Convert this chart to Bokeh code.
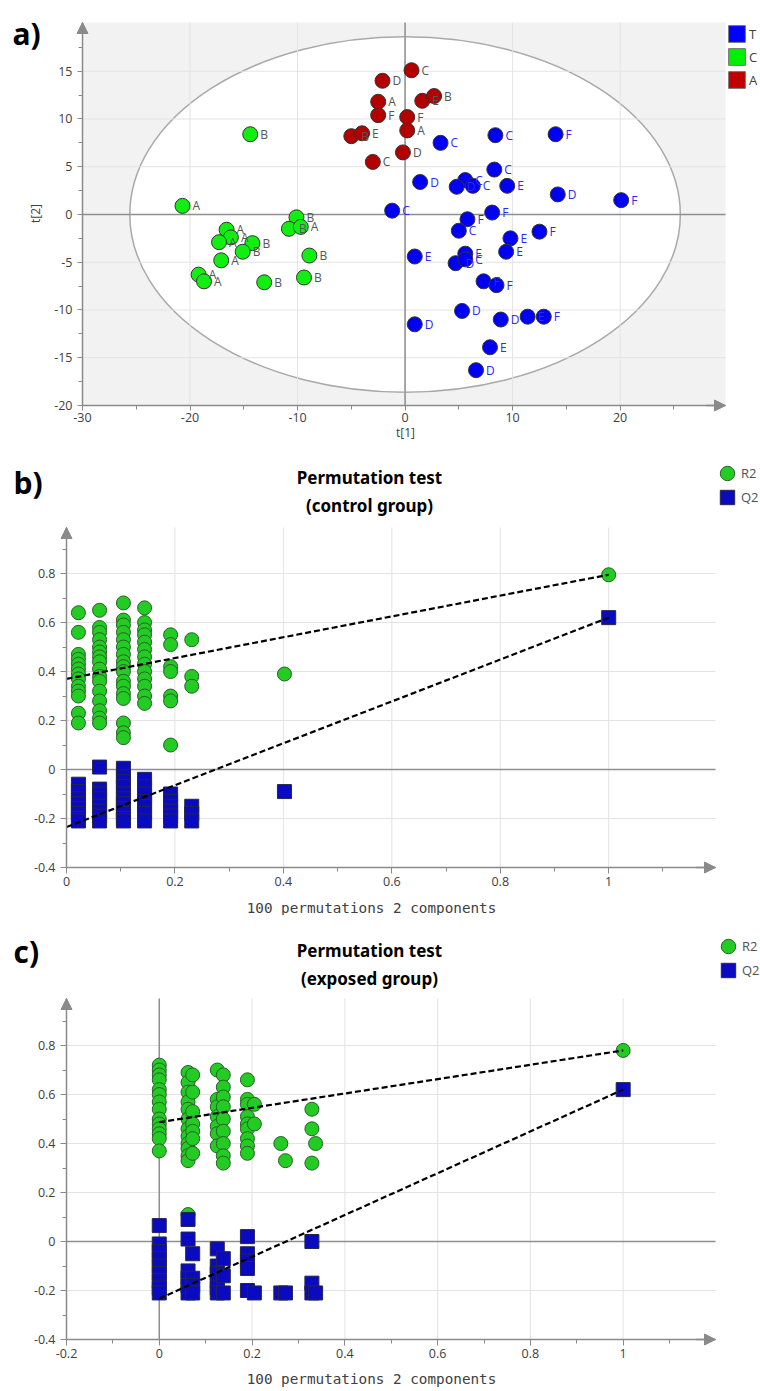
import math
from bokeh.plotting import figure
from bokeh.models import (Range1d, FixedTicker, Arrow, NormalHead, Label, Legend, LegendItem)
from bokeh.layouts import column
from bokeh.core.properties import value
from bokeh.embed import file_html
from bokeh.resources import INLINE

# ---------------- panel a : score plot t[1] / t[2] ----------------
t_x = [8.4, 14.0, 3.3, 8.3, 1.4, 5.6, 4.8, 6.3, 9.5, 14.2, 20.1, -1.2, 8.1, 5.8, 5.0, 12.5,
       9.8, 0.9, 5.6, 4.7, 5.6, 9.4, 7.3, 8.5, 5.3, 0.9, 8.9, 11.4, 12.9, 7.9, 6.6]
t_y = [8.3, 8.4, 7.5, 4.7, 3.4, 3.6, 2.9, 3.0, 3.0, 2.1, 1.5, 0.4, 0.2, -0.5, -1.7, -1.8,
       -2.5, -4.4, -4.1, -5.1, -4.7, -3.9, -7.0, -7.4, -10.1, -11.5, -11.0, -10.7, -10.7, -13.9, -16.3]
t_lab = ["C", "F", "C", "C", "D", "C", "D", "C", "E", "D", "F", "C", "F", "F", "C", "F",
         "E", "E", "E", "D", "C", "E", "F", "F", "D", "D", "D", "E", "F", "E", "D"]

c_x = [-20.7, -16.6, -16.2, -17.3, -14.2, -15.1, -17.1, -19.2, -18.7, -13.1, -9.4, -8.9,
       -10.1, -10.8, -9.7, -14.4]
c_y = [0.9, -1.6, -2.4, -2.9, -3.0, -3.9, -4.8, -6.3, -7.0, -7.1, -6.6, -4.3,
       -0.3, -1.5, -1.3, 8.4]
c_lab = ["A", "A", "A", "A", "B", "B", "A", "A", "A", "B", "B", "B", "B", "B", "A", "B"]

a_x = [0.6, -2.1, -2.5, -2.5, 0.2, 0.2, 1.6, 2.7, -5.0, -4.0, -0.2, -3.0]
a_y = [15.1, 14.0, 11.8, 10.4, 10.2, 8.8, 11.9, 12.4, 8.2, 8.5, 6.5, 5.5]
a_lab = ["C", "D", "A", "F", "F", "A", "E", "B", "B", "E", "D", "C"]

groups = ["T", "C", "A"]
ellipse_rx = 25.6   # Hotelling T2 ellipse semi-axes
ellipse_ry = 18.6

a_xticks = [-30, -20, -10, 0, 10, 20]
a_xtick_labels = ["-30", "-20", "-10", "0", "10", "20"]
a_yticks = [-20, -15, -10, -5, 0, 5, 10, 15]
a_ytick_labels = ["-20", "-15", "-10", "-5", "0", "5", "10", "15"]
a_xlabel = "t[1]"
a_ylabel = "t[2]"

# ---------------- panel b : permutation test (control group) ----------------
b_corr = [0.022, 0.061, 0.105, 0.144, 0.192, 0.231, 0.402, 1.0]
b_r2 = [
    [0.64, 0.56, 0.47, 0.45, 0.43, 0.41, 0.39, 0.37, 0.34, 0.32, 0.30, 0.23, 0.19],
    [0.65, 0.58, 0.56, 0.53, 0.50, 0.48, 0.46, 0.44, 0.41, 0.38, 0.36, 0.32, 0.28, 0.24, 0.21, 0.19],
    [0.68, 0.61, 0.59, 0.56, 0.53, 0.50, 0.47, 0.44, 0.42, 0.40, 0.36, 0.34, 0.31, 0.29, 0.19, 0.15, 0.13],
    [0.66, 0.60, 0.57, 0.55, 0.52, 0.49, 0.46, 0.43, 0.40, 0.37, 0.34, 0.30, 0.27],
    [0.55, 0.51, 0.42, 0.40, 0.30, 0.28, 0.10],
    [0.53, 0.38, 0.34],
    [0.39],
    [0.795],
]
b_q2 = [
    [-0.06, -0.09, -0.12, -0.14, -0.16, -0.18, -0.20, -0.21],
    [0.01, -0.08, -0.10, -0.12, -0.15, -0.17, -0.19, -0.21],
    [0.005, -0.03, -0.05, -0.07, -0.10, -0.12, -0.14, -0.16, -0.18, -0.20, -0.21],
    [-0.04, -0.07, -0.10, -0.13, -0.15, -0.18, -0.21],
    [-0.10, -0.13, -0.15, -0.17, -0.19, -0.21],
    [-0.15, -0.18, -0.21],
    [-0.09],
    [0.62],
]
b_r2_intercept = 0.37
b_q2_intercept = -0.235

# ---------------- panel c : permutation test (exposed group) ----------------
c_corr = [0.0, 0.062, 0.072, 0.125, 0.138, 0.19, 0.205, 0.262, 0.272, 0.329, 0.337, 1.0]
c_r2 = [
    [0.72, 0.70, 0.68, 0.66, 0.62, 0.60, 0.57, 0.54, 0.50, 0.48, 0.46, 0.44, 0.42, 0.37],
    [0.69, 0.65, 0.61, 0.57, 0.54, 0.50, 0.46, 0.43, 0.40, 0.38, 0.35, 0.33, 0.11],
    [0.68, 0.61, 0.53, 0.48, 0.45, 0.42, 0.36],
    [0.70, 0.58, 0.55, 0.51, 0.47, 0.44, 0.39],
    [0.68, 0.63, 0.59, 0.55, 0.50, 0.45, 0.40, 0.35, 0.32],
    [0.66, 0.58, 0.56, 0.51, 0.48, 0.46, 0.42, 0.39, 0.36],
    [0.56, 0.48],
    [0.40],
    [0.33],
    [0.54, 0.46, 0.32],
    [0.40],
    [0.78],
]
c_q2 = [
    [0.065, -0.01, -0.04, -0.07, -0.10, -0.13, -0.16, -0.19, -0.21],
    [0.09, 0.01, -0.12, -0.15, -0.18, -0.21],
    [-0.05, -0.15, -0.18, -0.21],
    [-0.03, -0.10, -0.13, -0.16, -0.19, -0.21],
    [-0.07, -0.14, -0.21],
    [0.02, -0.05, -0.08, -0.11, -0.20],
    [-0.21],
    [-0.21],
    [-0.21],
    [0.0, -0.17, -0.21],
    [-0.21],
    [0.62],
]
c_r2_intercept = 0.487
c_q2_intercept = -0.233

perm_xticks_b = [0, 0.2, 0.4, 0.6, 0.8, 1]
perm_xtick_labels_b = ["0", "0.2", "0.4", "0.6", "0.8", "1"]
perm_xticks_c = [-0.2, 0, 0.2, 0.4, 0.6, 0.8, 1]
perm_xtick_labels_c = ["-0.2", "0", "0.2", "0.4", "0.6", "0.8", "1"]
perm_yticks = [-0.4, -0.2, 0, 0.2, 0.4, 0.6, 0.8]
perm_ytick_labels = ["-0.4", "-0.2", "0", "0.2", "0.4", "0.6", "0.8"]
perm_xlabel = "100 permutations 2 components"
perm_title = "Permutation test"
series_names = ["R2", "Q2"]

# ---------------- styling ----------------
AXIS = "#8a8a8a"
GRID = "#e3e3e3"
ZERO = "#8f8f8f"
TICKFONT = "Open Sans"
TICKCOL = "#404040"
BLUE_T, GREEN_C, RED_A = "#0000f5", "#12ee12", "#b30000"
GREEN_R2, BLUE_Q2 = "#22cc22", "#0a0ac0"
PAGE_L, PAGE_R = 0, 760


def flatten(xs, cols):
    fx, fy = [], []
    for x, col in zip(xs, cols):
        for v in col:
            fx.append(x)
            fy.append(v)
    return fx, fy


class Panel:
    """Figure whose frame is the whole canvas; the plot box is mapped to page pixels."""

    def __init__(self, top, bottom, box, xr, yr, bg="white"):
        pl, pt, pr, pb = box
        x0, x1 = xr
        y0, y1 = yr
        kx = (x1 - x0) / (pr - pl)
        ky = (y1 - y0) / (pb - pt)
        self.top, self.bottom = top, bottom
        self.x0, self.x1, self.y0, self.y1 = x0, x1, y0, y1
        self.p = figure(width=PAGE_R - PAGE_L, height=bottom - top, output_backend="svg",
                        toolbar_location=None,
                        x_range=Range1d(x0 + (PAGE_L - pl) * kx, x0 + (PAGE_R - pl) * kx),
                        y_range=Range1d(y0 - (bottom - pb) * ky, y1 + (pt - top) * ky),
                        min_border=0, background_fill_color="white", border_fill_color="white",
                        outline_line_color=None)
        self.p.xgrid.visible = False
        self.p.ygrid.visible = False
        if bg != "white":
            self.p.quad(left=[x0], right=[x1], bottom=[y0], top=[y1], fill_color=bg, line_color=None)

    def sx(self, px):
        return px - PAGE_L

    def sy(self, py):
        return self.bottom - py

    def label(self, px, py, text, size, font="Open Sans", bold=False, color=TICKCOL,
              align="center", baseline="middle", angle=0.0):
        self.p.add_layout(Label(x=self.sx(px), y=self.sy(py), x_units="screen", y_units="screen",
                                text=text, text_font=font, text_font_size=size,
                                text_font_style="bold" if bold else "normal", text_color=color,
                                text_align=align, text_baseline=baseline, angle=angle))

    def grid(self, xt, yt):
        p = self.p
        p.segment(x0=xt, y0=[self.y0] * len(xt), x1=xt, y1=[self.y1] * len(xt),
                  line_color=GRID, line_width=1)
        p.segment(x0=[self.x0] * len(yt), y0=yt, x1=[self.x1] * len(yt), y1=yt,
                  line_color=GRID, line_width=1)

    def zero_lines(self, horiz=True, vert=True):
        if horiz:
            self.p.segment(x0=[self.x0], y0=[0], x1=[self.x1], y1=[0], line_color=ZERO, line_width=1.5)
        if vert:
            self.p.segment(x0=[0], y0=[self.y0], x1=[0], y1=[self.y1], line_color=ZERO, line_width=1.5)

    def axes(self, xt, xl, xminor, yt, yl, yminor, tick_out=6, xstand=3, ystand=5):
        p = self.p
        p.xaxis.fixed_location = self.y0
        p.yaxis.fixed_location = self.x0
        p.xaxis.bounds = (self.x0, self.x1)
        p.yaxis.bounds = (self.y0, self.y1)
        p.xaxis.ticker = FixedTicker(ticks=xt, minor_ticks=xminor)
        p.yaxis.ticker = FixedTicker(ticks=yt, minor_ticks=yminor)
        p.xaxis.major_label_overrides = {t: l for t, l in zip(xt, xl)}
        p.yaxis.major_label_overrides = {t: l for t, l in zip(yt, yl)}
        for ax in (p.xaxis[0], p.yaxis[0]):
            ax.axis_line_color = AXIS
            ax.axis_line_width = 1.5
            ax.major_tick_line_color = AXIS
            ax.minor_tick_line_color = AXIS
            ax.major_tick_in = 0
            ax.major_tick_out = tick_out
            ax.minor_tick_in = 0
            ax.minor_tick_out = 4
            ax.major_label_text_font = TICKFONT
            ax.major_label_text_font_size = "12.5px"
            ax.major_label_text_color = TICKCOL
        p.xaxis.major_label_standoff = xstand
        p.yaxis.major_label_standoff = ystand
        for (xs, ys, xe, ye) in ((self.x1 - (self.x1 - self.x0) * 0.03, self.y0, self.x1, self.y0),
                                 (self.x0, self.y1 - (self.y1 - self.y0) * 0.03, self.x0, self.y1)):
            p.add_layout(Arrow(end=NormalHead(size=11, fill_color=AXIS, line_color=AXIS),
                               x_start=xs, y_start=ys, x_end=xe, y_end=ye,
                               line_color=AXIS, line_width=1.5))


# ================= panel a =================
A = Panel(0, 440, (82, 22, 725, 405), (-30, 29.8), (-20, 20.1), bg="#f2f2f2")
pa = A.p
pa.ellipse(x=[0], y=[0], width=[2 * ellipse_rx], height=[2 * ellipse_ry],
           fill_color="white", line_color="#a9a9a9", line_width=1.5)
A.grid(a_xticks, a_yticks)
A.zero_lines()
leg_items = []
for g, xs, ys, labs, col, lcol, lgcol in ((groups[0], t_x, t_y, t_lab, BLUE_T, "#2a2af5", "#0000ff"),
                                          (groups[1], c_x, c_y, c_lab, GREEN_C, "#555555", "#00f000"),
                                          (groups[2], a_x, a_y, a_lab, RED_A, "#555555", "#c00000")):
    pa.scatter(xs, ys, marker="circle", size=15, fill_color=col, line_color="#333333", line_width=1)
    pa.text(xs, ys, text=labs, x_offset=10, text_baseline="middle", text_font=value("Open Sans"),
            text_font_size="12px", text_color=lcol)
    proxy = pa.rect(x=xs, y=ys, width=17, height=17, width_units="screen", height_units="screen",
                    fill_color=lgcol, line_color="#777777", line_width=1, visible=False)
    leg_items.append(LegendItem(label=g, renderers=[proxy]))
A.axes(a_xticks, a_xtick_labels, [-25, -15, -5, 5, 15, 25],
       a_yticks, a_ytick_labels, [-17.5, -12.5, -7.5, -2.5, 2.5, 7.5, 12.5, 17.5],
       tick_out=5, xstand=2, ystand=5)
pa.add_layout(Legend(items=leg_items, location=(A.sx(726), A.sy(90)), padding=0, margin=0, spacing=2,
                     glyph_width=21, glyph_height=21, label_height=21, label_standoff=2,
                     label_text_font="Open Sans", label_text_font_size="13px", label_text_color="#404040",
                     border_line_color=None, background_fill_alpha=0))
A.label(405, 432, a_xlabel, "12px")
A.label(35, 213, a_ylabel, "12px", angle=math.pi / 2)
A.label(12, 33, "a)", "30px", bold=True, color="black", align="left", baseline="alphabetic")


# ================= panels b and c =================
def perm_panel(top, bottom, box, xr, yr, corr, r2, q2, r2_int, q2_int, xt, xl, xminor,
               title2, letter_txt, title_y, leg_x, leg_y, letter_y, xlabel_y):
    P = Panel(top, bottom, box, xr, yr)
    p = P.p
    P.grid(xt, perm_yticks)
    P.zero_lines(horiz=True, vert=xr[0] < 0)
    rx, ry = flatten(corr, r2)
    qx, qy = flatten(corr, q2)
    rr = p.ellipse(x=rx, y=ry, width=14, height=14, width_units="screen", height_units="screen",
                   fill_color=GREEN_R2, line_color="#2b5e2b", line_width=1)
    rq = p.rect(x=qx, y=qy, width=14, height=14, width_units="screen", height_units="screen",
                fill_color=BLUE_Q2, line_color="#26264a", line_width=1)
    p.line([0, 1], [r2_int, r2[-1][0]], line_color="black", line_width=2.2, line_dash="6 3")
    p.line([0, 1], [q2_int, q2[-1][0]], line_color="black", line_width=2.2, line_dash="6 3")
    P.axes(xt, xl, xminor, perm_yticks, perm_ytick_labels, [-0.3, -0.1, 0.1, 0.3, 0.5, 0.7, 0.9])
    p.add_layout(Legend(items=[LegendItem(label=series_names[0], renderers=[rr]),
                               LegendItem(label=series_names[1], renderers=[rq])],
                        location=(P.sx(leg_x), P.sy(leg_y)), padding=0, margin=0, spacing=6,
                        glyph_width=18, glyph_height=18, label_height=18, label_standoff=5,
                        label_text_font="Open Sans",
                        label_text_font_size="13px", label_text_color="#505050",
                        border_line_color=None, background_fill_alpha=0))
    P.label(369, title_y, perm_title, "17px", font="Noto Sans", bold=True, color="black")
    P.label(369, title_y + 28, title2, "17px", font="Noto Sans", bold=True, color="black")
    P.label(371, xlabel_y, perm_xlabel, "14.3px", font="DejaVu Sans Mono")
    P.label(13, letter_y, letter_txt, "30px", bold=True, color="black", align="left", baseline="alphabetic")
    return p


pb = perm_panel(440, 915, (66, 527, 715, 867), (0, 1.197), (-0.4, 0.988),
                b_corr, b_r2, b_q2, b_r2_intercept, b_q2_intercept,
                perm_xticks_b, perm_xtick_labels_b, [0.1, 0.3, 0.5, 0.7, 0.9, 1.1],
                "(control group)", "b)", 477, 718, 506, 482, 907)
pc = perm_panel(915, 1391, (66, 998, 715, 1339), (-0.2, 1.199), (-0.4, 0.992),
                c_corr, c_r2, c_q2, c_r2_intercept, c_q2_intercept,
                perm_xticks_c, perm_xtick_labels_c, [-0.1, 0.1, 0.3, 0.5, 0.7, 0.9, 1.1],
                "(exposed group)", "c)", 950, 719, 979, 951, 1378)

lay = column(pa, pb, pc, spacing=0)
open("out.html", "w").write(file_html(lay, INLINE))
